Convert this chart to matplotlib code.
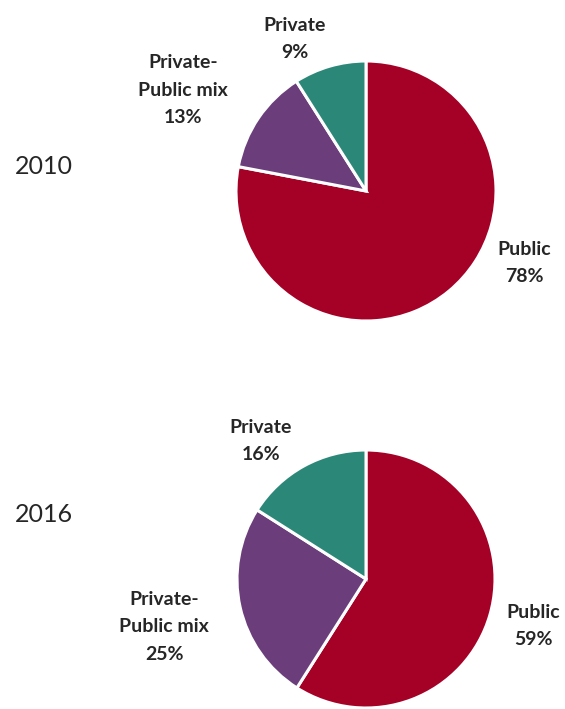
import matplotlib
matplotlib.use("Agg")
import matplotlib.pyplot as plt

# Ownership shares by year (clockwise from 12 o'clock)
categories = ["Public", "Private-Public mix", "Private"]
shares_2010 = [78, 13, 9]
shares_2016 = [59, 25, 16]
years = ["2010", "2016"]

colors = ["#A50026", "#6B3E7B", "#2B8878"]
text_color = "#262626"

W, H = 565, 709
fig = plt.figure(figsize=(W / 100, H / 100), dpi=100)
ax = fig.add_axes([0, 0, 1, 1])


def fy(y):
    return H - y


pies = [
    (shares_2010, (366, 191), 130),
    (shares_2016, (366, 579), 129),
]
for shares, (cx, cy), r in pies:
    ax.pie(shares, colors=colors, startangle=90, counterclock=False,
           center=(cx, fy(cy)), radius=r,
           wedgeprops=dict(edgecolor="white", linewidth=2.2))

ax.set_xlim(0, W)
ax.set_ylim(0, H)
ax.set_aspect("equal")
ax.axis("off")

label_font = dict(family="Lato", weight="bold", fontsize=14, color=text_color,
                  ha="center", va="center", linespacing=1.72)

# 2010 labels
ax.text(524, fy(263), f"Public\n{shares_2010[0]}%", **label_font)
ax.text(183, fy(90), f"Private-\nPublic mix\n{shares_2010[1]}%", **label_font)
ax.text(295, fy(39), f"Private\n{shares_2010[2]}%", **label_font)

# 2016 labels
ax.text(533, fy(626), f"Public\n{shares_2016[0]}%", **label_font)
ax.text(164, fy(627), f"Private-\nPublic mix\n{shares_2016[1]}%", **label_font)
ax.text(261, fy(441), f"Private\n{shares_2016[2]}%", **label_font)

# year labels
for yr, y in zip(years, [167, 515]):
    ax.text(44, fy(y), yr, family="Lato", fontsize=18, color=text_color,
            ha="center", va="center")

fig.savefig("out.png", dpi=100)
